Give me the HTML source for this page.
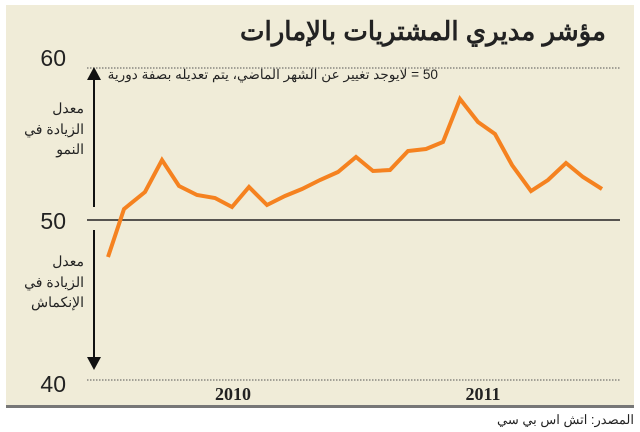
<!DOCTYPE html>
<html><head><meta charset="utf-8"><style>
body{margin:0;background:#fff;}
svg{display:block;}
text{font-family:"Liberation Sans","Noto Sans CJK SC",sans-serif;}
text.serif{font-family:"Liberation Serif",serif;}
</style></head><body>
<svg width="640" height="432" viewBox="0 0 640 432">
<rect x="6" y="5" width="628" height="401" fill="#f0ecd8"/>
<rect x="6" y="405" width="628" height="3" fill="#777"/>
<text x="606" y="40" text-anchor="end" font-size="26" font-weight="bold" fill="#222">مؤشر مديري المشتريات بالإمارات</text>
<line x1="87" y1="68" x2="620" y2="68" stroke="#555" stroke-width="1" stroke-dasharray="1.5,1.5"/>
<line x1="87" y1="380" x2="620" y2="380" stroke="#555" stroke-width="1" stroke-dasharray="1.5,1.5"/>
<line x1="87" y1="220" x2="620" y2="220" stroke="#222" stroke-width="1.5"/>
<text x="66" y="66" text-anchor="end" font-size="23" fill="#222">60</text>
<text x="66" y="229" text-anchor="end" font-size="23" fill="#222">50</text>
<text x="66" y="392" text-anchor="end" font-size="23" fill="#222">40</text>
<line x1="94" y1="80" x2="94" y2="207" stroke="#111" stroke-width="2"/>
<polygon points="87,80 101,80 94,67" fill="#111"/>
<line x1="94" y1="230" x2="94" y2="357" stroke="#111" stroke-width="2"/>
<polygon points="87,357 101,357 94,370" fill="#111"/>
<g font-size="14" fill="#222" text-anchor="end">
<text x="84" y="113">معدل</text><text x="84" y="134">الزيادة في</text><text x="84" y="154">النمو</text>
<text x="84" y="266">معدل</text><text x="84" y="287">الزيادة في</text><text x="84" y="307">الإنكماش</text>
</g>
<text x="438" y="79" text-anchor="start" direction="rtl" style="direction:rtl;unicode-bidi:embed" font-size="13.6" fill="#222">50 = لايوجد تغيير عن الشهر الماضي، يتم تعديله بصفة دورية</text>
<polyline fill="none" stroke="#f58220" stroke-width="4" stroke-linejoin="miter" points="108,257 124,209 145,192 162,160 179,186 197,195 215,198 232,207 249,187 267,205 285,196 302,189 320,180 338,172 356,157 373,171 390,170 408,151 426,149 443,142 460,99 478,122 495,134 512,165 531,191 548,180 566,163 583,177 602,189"/>
<text class="serif" x="233" y="400" text-anchor="middle" font-size="18" font-weight="bold" fill="#222">2010</text>
<text class="serif" x="483" y="400" text-anchor="middle" font-size="18" font-weight="bold" fill="#222">2011</text>
<text x="634" y="424" text-anchor="end" font-size="13" fill="#222">المصدر: اتش اس بي سي</text>
</svg>
</body></html>
